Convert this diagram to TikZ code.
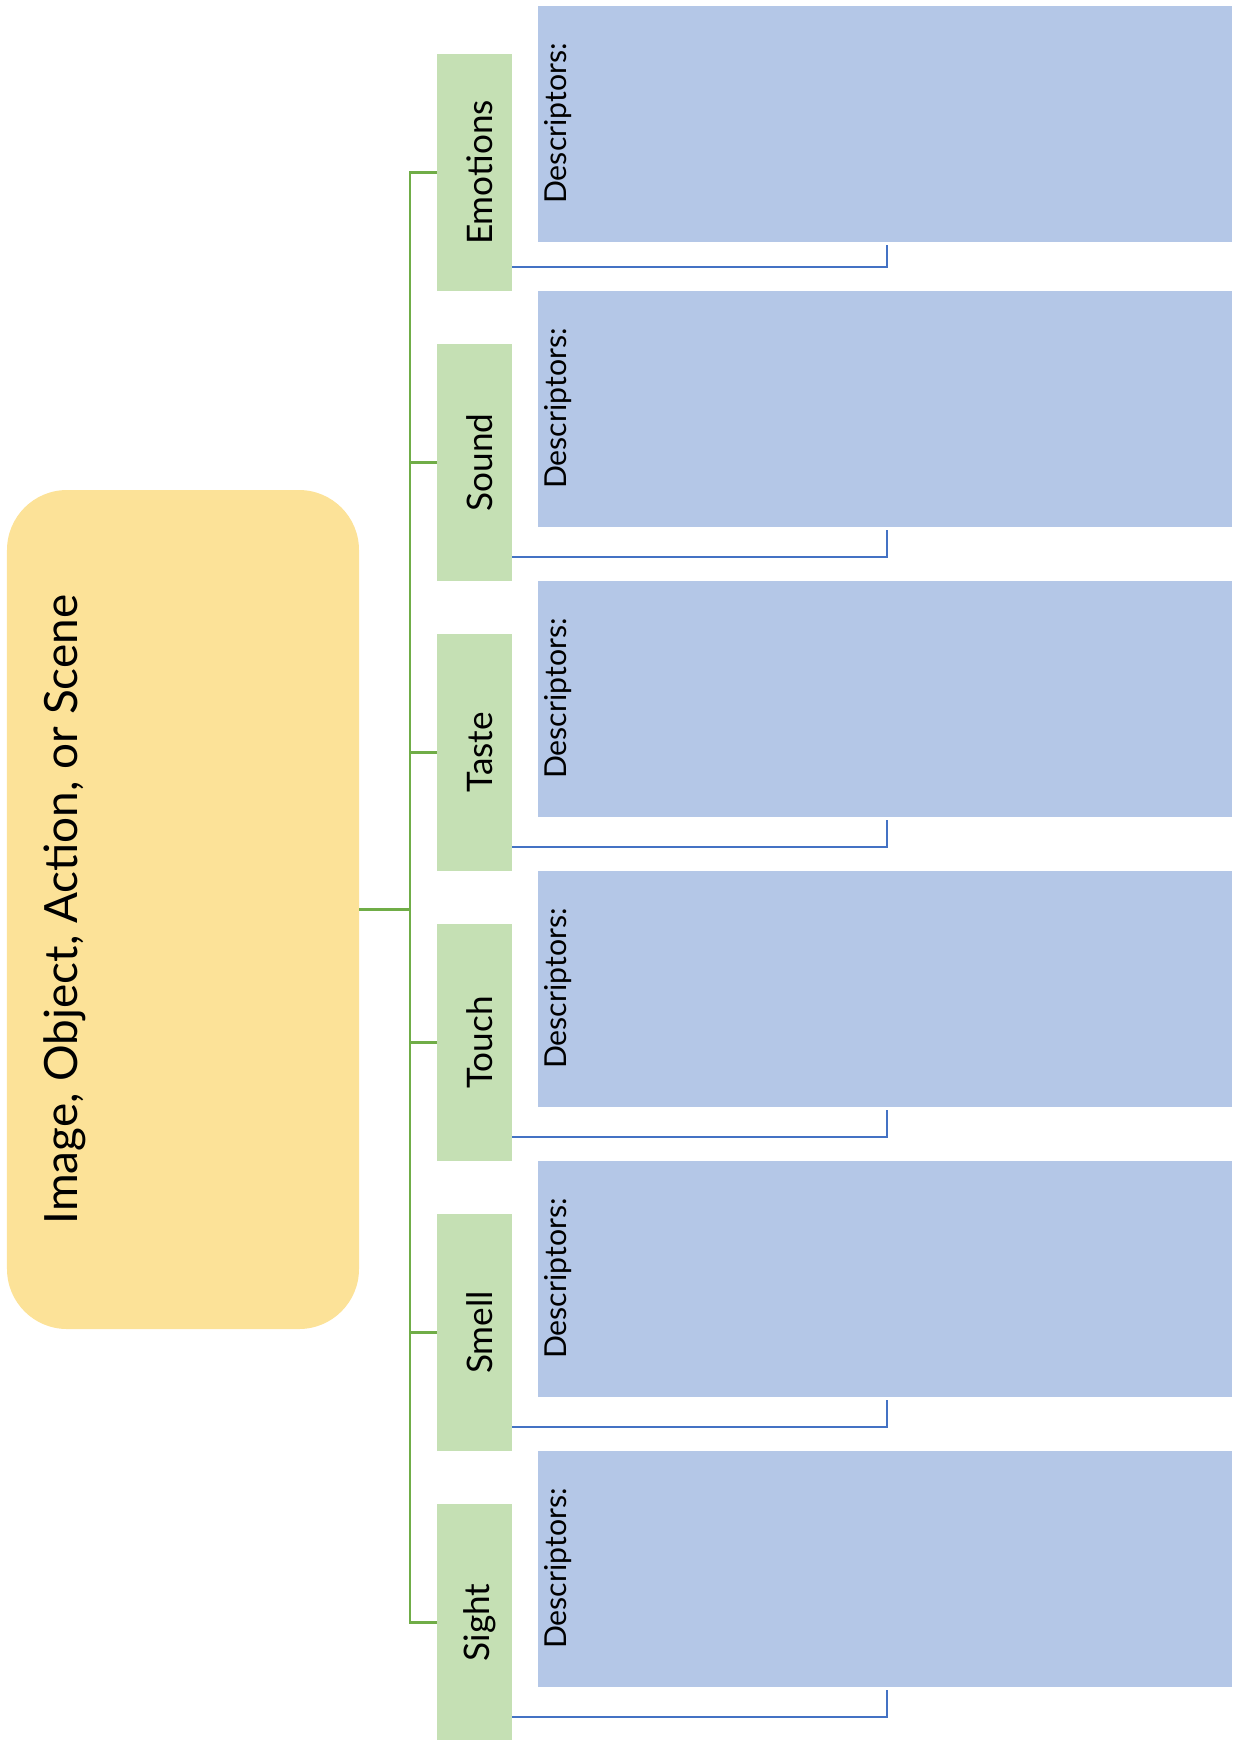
\documentclass[tikz,border=0pt]{standalone}
\usepackage{fontspec}
\setmainfont{Lato}
\usepackage{graphicx}
\usepackage{xcolor}
\usetikzlibrary{positioning}

\definecolor{sceneyellow}{HTML}{FCE298}
\definecolor{sensegreen}{HTML}{C5E0B4}
\definecolor{descblue}{HTML}{B4C7E7}
\definecolor{treegreen}{HTML}{70AD47}
\definecolor{descline}{HTML}{4472C4}

\begin{document}
\begin{tikzpicture}[
            node distance=0.53cm and 0.26cm,
            box_scene/.style={
                rectangle, rounded corners=0.6cm, fill=sceneyellow, inner sep=0pt, outer sep=0pt,
                minimum width=3.52cm, minimum height=8.39cm,
                label={[anchor=west, xshift=0.24cm, font=\fontsize{13.05}{16}\selectfont]west:{\rotatebox{90}{Image, Object, Action, or Scene}}}
            },
            box_sense/.style={
                rectangle, fill=sensegreen, inner sep=0pt, outer sep=0pt, font=\fontsize{10}{12}\selectfont,
                minimum width=0.75cm, minimum height=2.37cm,
                execute at begin node=\hspace*{0.11cm}
            },
            box_desc/.style={
                rectangle, fill=descblue, inner sep=0pt, outer sep=0pt,
                minimum width=6.94cm, minimum height=2.36cm,
                label={[anchor=west, xshift=-0.06cm, font=\fontsize{8.6}{10}\selectfont]west:{\rotatebox{90}{Descriptors:}}}
            },
            line_tree/.style={draw=treegreen, line width=0.75pt},
            line_desc/.style={draw=descline, line width=0.7pt, shorten >=0.03cm}
        ]
            \useasboundingbox (0,0) rectangle (12.32,-17.40);

            % Tema central
            \node[box_scene] (scene) at (1.83,-9.095) {};
            \coordinate[right=0.51cm of scene.east] (hub);

            % --- Sentidos ---
            \node[box_sense] (s1) at (4.745,-1.725) {\rotatebox{90}{Emotions}};
            \node[box_sense, below=of s1] (s2) {\rotatebox{90}{Sound}};
            \node[box_sense, below=of s2] (s3) {\rotatebox{90}{Taste}};
            \node[box_sense, below=of s3] (s4) {\rotatebox{90}{Touch}};
            \node[box_sense, below=of s4] (s5) {\rotatebox{90}{Smell}};
            \node[box_sense, below=of s5] (s6) {\rotatebox{90}{Sight}};

            % --- Caixas de descritores ---
            \node[box_desc, right=of s1, yshift=0.49cm] (d1) {};
            \node[box_desc, right=of s2, yshift=0.54cm] (d2) {};
            \node[box_desc, right=of s3, yshift=0.54cm] (d3) {};
            \node[box_desc, right=of s4, yshift=0.54cm] (d4) {};
            \node[box_desc, right=of s5, yshift=0.54cm] (d5) {};
            \node[box_desc, right=of s6, yshift=0.54cm] (d6) {};

            % Ramos da arvore
            \draw[line_tree, line width=1.1pt] (scene.east) -- (hub);
            \draw[line_tree] (hub) |- (s1.west);
            \draw[line_tree] (hub) |- (s2.west);
            \draw[line_tree] (hub) |- (s3.west);
            \draw[line_tree] (hub) |- (s4.west);
            \draw[line_tree] (hub) |- (s5.west);
            \draw[line_tree] (hub) |- (s6.west);

            % Ligacoes aos descritores
            \draw[line_desc] ([yshift=0.24cm]s1.south east) -| ([xshift=3.49cm]d1.south west);
            \draw[line_desc] ([yshift=0.24cm]s2.south east) -| ([xshift=3.49cm]d2.south west);
            \draw[line_desc] ([yshift=0.24cm]s3.south east) -| ([xshift=3.49cm]d3.south west);
            \draw[line_desc] ([yshift=0.24cm]s4.south east) -| ([xshift=3.49cm]d4.south west);
            \draw[line_desc] ([yshift=0.24cm]s5.south east) -| ([xshift=3.49cm]d5.south west);
            \draw[line_desc] ([yshift=0.24cm]s6.south east) -| ([xshift=3.49cm]d6.south west);

        \end{tikzpicture}
\end{document}
